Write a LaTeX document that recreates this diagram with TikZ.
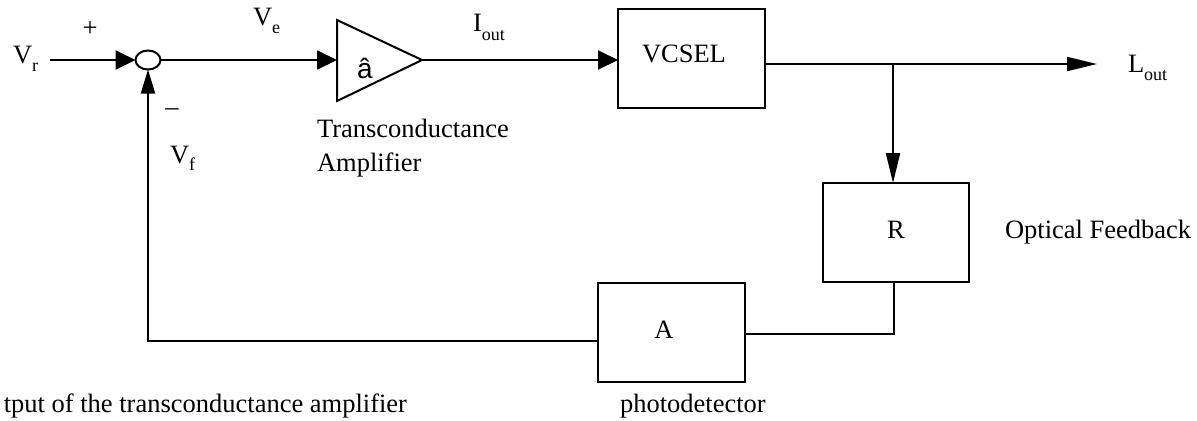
\documentclass[tikz,border=0pt]{standalone}
\usepackage{fontspec}
\setmainfont{Liberation Serif}
\newfontfamily\sansfam{Liberation Sans}
\usetikzlibrary{arrows.meta,shapes.geometric}
\newcommand\lowsub[2]{\raisebox{-#1}{\fontsize{9}{9}\selectfont #2}}
\begin{document}
\begin{tikzpicture}[x=0.5pt,y=-0.5pt,
  every node/.style={font=\fontsize{13.25}{16}\selectfont, inner sep=0pt, outer sep=0pt},
  wire/.style={line width=1pt},
  arrA/.style={wire,-{Triangle[length=10pt,width=9.5pt]}},
  arrB/.style={wire,-{Triangle[length=15pt,width=7pt]}},
  arrC/.style={wire,-{Triangle[length=12pt,width=7pt]}},
  blk/.style={draw,line width=1pt,minimum width=73.5pt,minimum height=49.5pt},
  lbl/.style={anchor=base west},
]
\useasboundingbox (0,0) rectangle (1197,420);
% summing junction
\node[draw,ellipse,line width=1pt,minimum width=12.5pt,minimum height=9.5pt] (sum) at (148,60) {};
% amplifier triangle
\coordinate (ampL) at (337,60);
\coordinate (ampT) at (422,60);
\draw[wire,line join=miter] (337,20) -- (ampT) -- (337,101) -- cycle;
% blocks
\node[blk] (vcsel) at (691.5,58.5) {};
\node[blk,minimum width=73pt] (rb) at (896,232.5) {};
\node[blk] (ab) at (671.5,332.5) {};
% connectors
\coordinate (vin) at (50,60);
\draw[arrA] (vin) -- (sum.west);
\draw[arrA] (sum.east) -- (ampL);
\draw[arrA] (ampT) -- (vcsel.west |- ampT);
\coordinate (j) at (893,64);
\coordinate (lend) at (1097,64);
\draw[arrB] (vcsel.east |- j) -- (lend);
\draw[arrB] (j) -- (rb.north -| j);
\coordinate (c1) at (894,334);
\draw[wire] (rb.south -| c1) -- (c1) -- (ab.east |- c1);
\coordinate (c2) at (148,341);
\draw[arrC] (ab.west |- c2) -- (c2) -- (sum.south);
% labels
\node[lbl] (lvr) at (13,63) {V\lowsub{4pt}{r}};
\node (lplus) at (90,29) {+};
\node[lbl] (lve) at (253,25) {V\lowsub{4pt}{e}};
\node (lhat) at (365,68) {\sansfam\fontsize{14}{14}\selectfont â};
\node[lbl] (lt1) at (317,137) {Transconductance};
\node[lbl] (lt2) at (317,171) {Amplifier};
\node[lbl] (lio) at (473,31) {I\lowsub{4.5pt}{out}};
\node[lbl] (lvc) at (642,62) {VCSEL};
\node[lbl] (llo) at (1128,72) {L\lowsub{4pt}{out}};
\node[anchor=base] (lr) at (896,238) {R};
\node[lbl] (lof) at (1005,238) {Optical Feedback};
\node[anchor=base] (la) at (664,338) {A};
\node[lbl] (lpd) at (620,412) {photodetector};
\node[anchor=base east] (lout) at (407,412) {tput of the transconductance amplifier};
\node (lminus) at (172,112) {–};
\node[lbl] (lvf) at (170,163) {V\lowsub{3.5pt}{f}};
\end{tikzpicture}
\end{document}
